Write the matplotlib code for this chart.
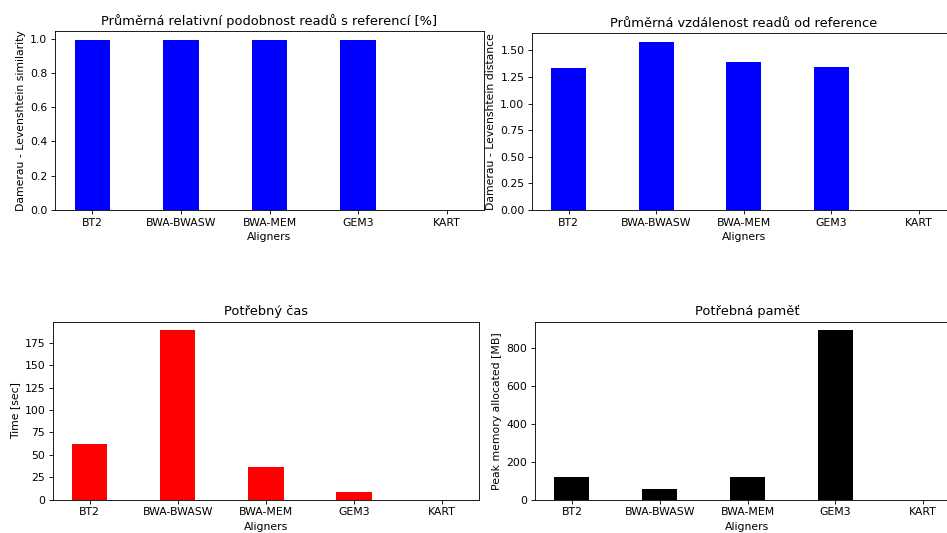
import matplotlib
matplotlib.use("Agg")
import matplotlib.pyplot as plt

# aligners and measured results
aligners = ['BT2', 'BWA-BWASW', 'BWA-MEM', 'GEM3', 'KART']
similarity = [0.995, 0.995, 0.99, 0.995, 0.0]
distance = [1.337, 1.582, 1.394, 1.347, 0.0]
time_sec = [62.1, 189.2, 36.4, 8.6, 0.0]
memory_mb = [119.5, 56.0, 119.0, 893.0, 0.0]

W, H = 947, 533
DPI = 78
fig = plt.figure(figsize=(W / DPI, H / DPI), dpi=DPI)


def add_axes_px(left, right, top, bottom):
    # axes box given in pixel coordinates (y measured from the top)
    return fig.add_axes([left / W, (H - bottom) / H, (right - left) / W, (bottom - top) / H])


panels = [
    # (box, values, colour, title, ylabel)
    ((55, 484, 31, 210), similarity, 'blue',
     'Průměrná relativní podobnost readů s referencí [%]', 'Damerau - Levenshtein similarity'),
    ((532, 955.8, 33.3, 210), distance, 'blue',
     'Průměrná vzdálenost readů od reference', 'Damerau - Levenshtein distance'),
    ((52.8, 479, 321.7, 499.7), time_sec, 'red',
     'Potřebný čas', 'Time [sec]'),
    ((535, 960, 321.7, 499.7), memory_mb, 'black',
     'Potřebná paměť', 'Peak memory allocated [MB]'),
]

for box, values, color, title, ylabel in panels:
    ax = add_axes_px(*box)
    ax.bar(aligners, values, width=0.4, color=color)
    ax.set_title(title)
    ax.set_xlabel('Aligners')
    ax.set_ylabel(ylabel)

fig.savefig('out.png', dpi=DPI)
